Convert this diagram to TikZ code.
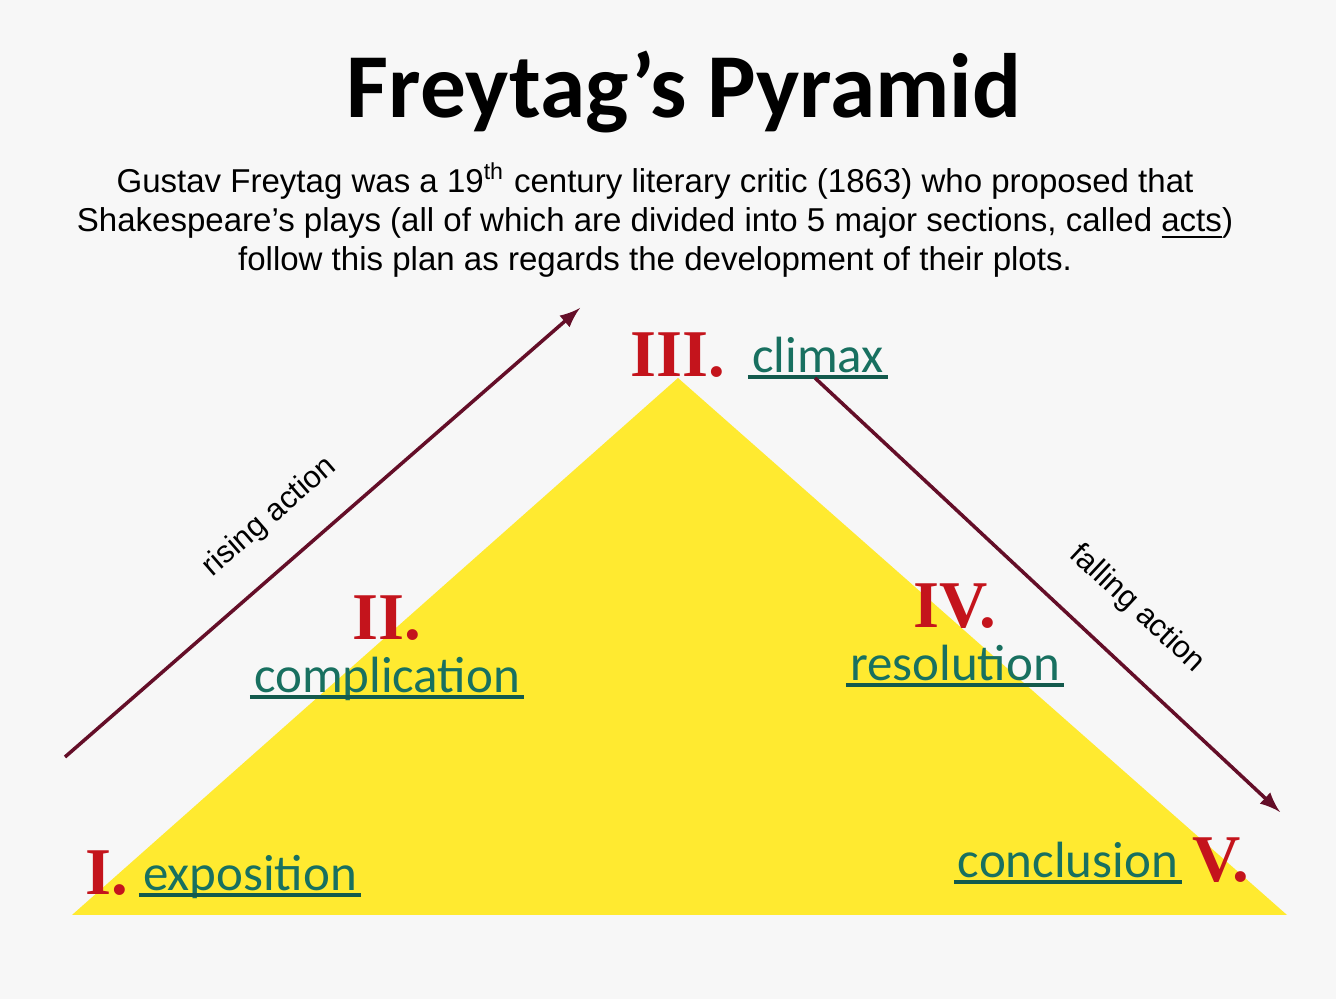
\documentclass[tikz,border=0pt]{standalone}
\usepackage{fontspec}
\setmainfont{Liberation Sans}
\newfontfamily\headfont{Carlito}
\newfontfamily\romanfont{Liberation Serif}
\usetikzlibrary{positioning}
\definecolor{pyryellow}{RGB}{255,234,48}
\definecolor{actred}{RGB}{196,20,28}
\definecolor{partteal}{RGB}{24,112,96}
\definecolor{linered}{RGB}{100,14,40}
\definecolor{paper}{RGB}{247,247,247}

\begin{document}
\begin{tikzpicture}[
  actnum/.style={font=\romanfont\bfseries\fontsize{19}{19}\selectfont, text=actred, inner sep=0pt},
  part/.style={font=\headfont\fontsize{14.5}{15}\selectfont, text=partteal, inner sep=1pt, text depth=0pt,
    append after command={(\tikzlastnode.south west) edge[draw=partteal!80!black, line width=1pt] (\tikzlastnode.south east)}},
  action/.style={draw=linered, line width=1pt, -latex},
  actlabel/.style={font=\fontsize{8.8}{8.8}\selectfont, inner sep=1pt}]
  \useasboundingbox (0,0) rectangle (13.36,9.99);
  \fill[paper] (0,0) rectangle (13.36,9.99);
  % the pyramid
  \fill[pyryellow] (0.72,0.84) -- (6.78,6.21) -- (12.87,0.84) -- cycle;

  \node[font=\headfont\bfseries\fontsize{26}{26}\selectfont] (title) at (6.84,9.07) {Freytag’s Pyramid};
  \node[align=center, font=\fontsize{9.4}{11.1}\selectfont] (intro) at (6.55,7.79)
    {Gustav Freytag was a 19\textsuperscript{th} century literary critic (1863) who proposed that\\
     Shakespeare’s plays (all of which are divided into 5 major sections, called \underline{acts})\\
     follow this plan as regards the development of their plots.};

  \node[part] (climax) at (8.18,6.44) {climax};
  \node[actnum, left=0.22 of climax] (three) {III.};
  \node[part] (compl) at (3.87,3.24) {complication};
  \node[actnum, above=0.12 of compl] (two) {II.};
  \node[part] (resol) at (9.55,3.36) {resolution};
  \node[actnum, above=0.12 of resol] (four) {IV.};
  \node[part] (expo) at (2.50,1.26) {exposition};
  \node[actnum, left=0.1 of expo] (one) {I.};
  \node[part] (concl) at (10.68,1.39) {conclusion};
  \node[actnum, right=0.1 of concl] (five) {V.};

  \coordinate (risefrom) at (0.65,2.42);
  \coordinate (riseto) at (5.80,6.91);
  \coordinate (fallfrom) at (8.15,6.21);
  \coordinate (fallto) at (12.80,1.87);
  \draw[action] (risefrom) -- (riseto);
  \draw[action] (fallfrom) -- (fallto);
  \node[actlabel, rotate=41] (rising) at (2.70,4.82) {rising action};
  \node[actlabel, rotate=-43] (falling) at (11.37,3.90) {falling action};
\end{tikzpicture}
\end{document}
